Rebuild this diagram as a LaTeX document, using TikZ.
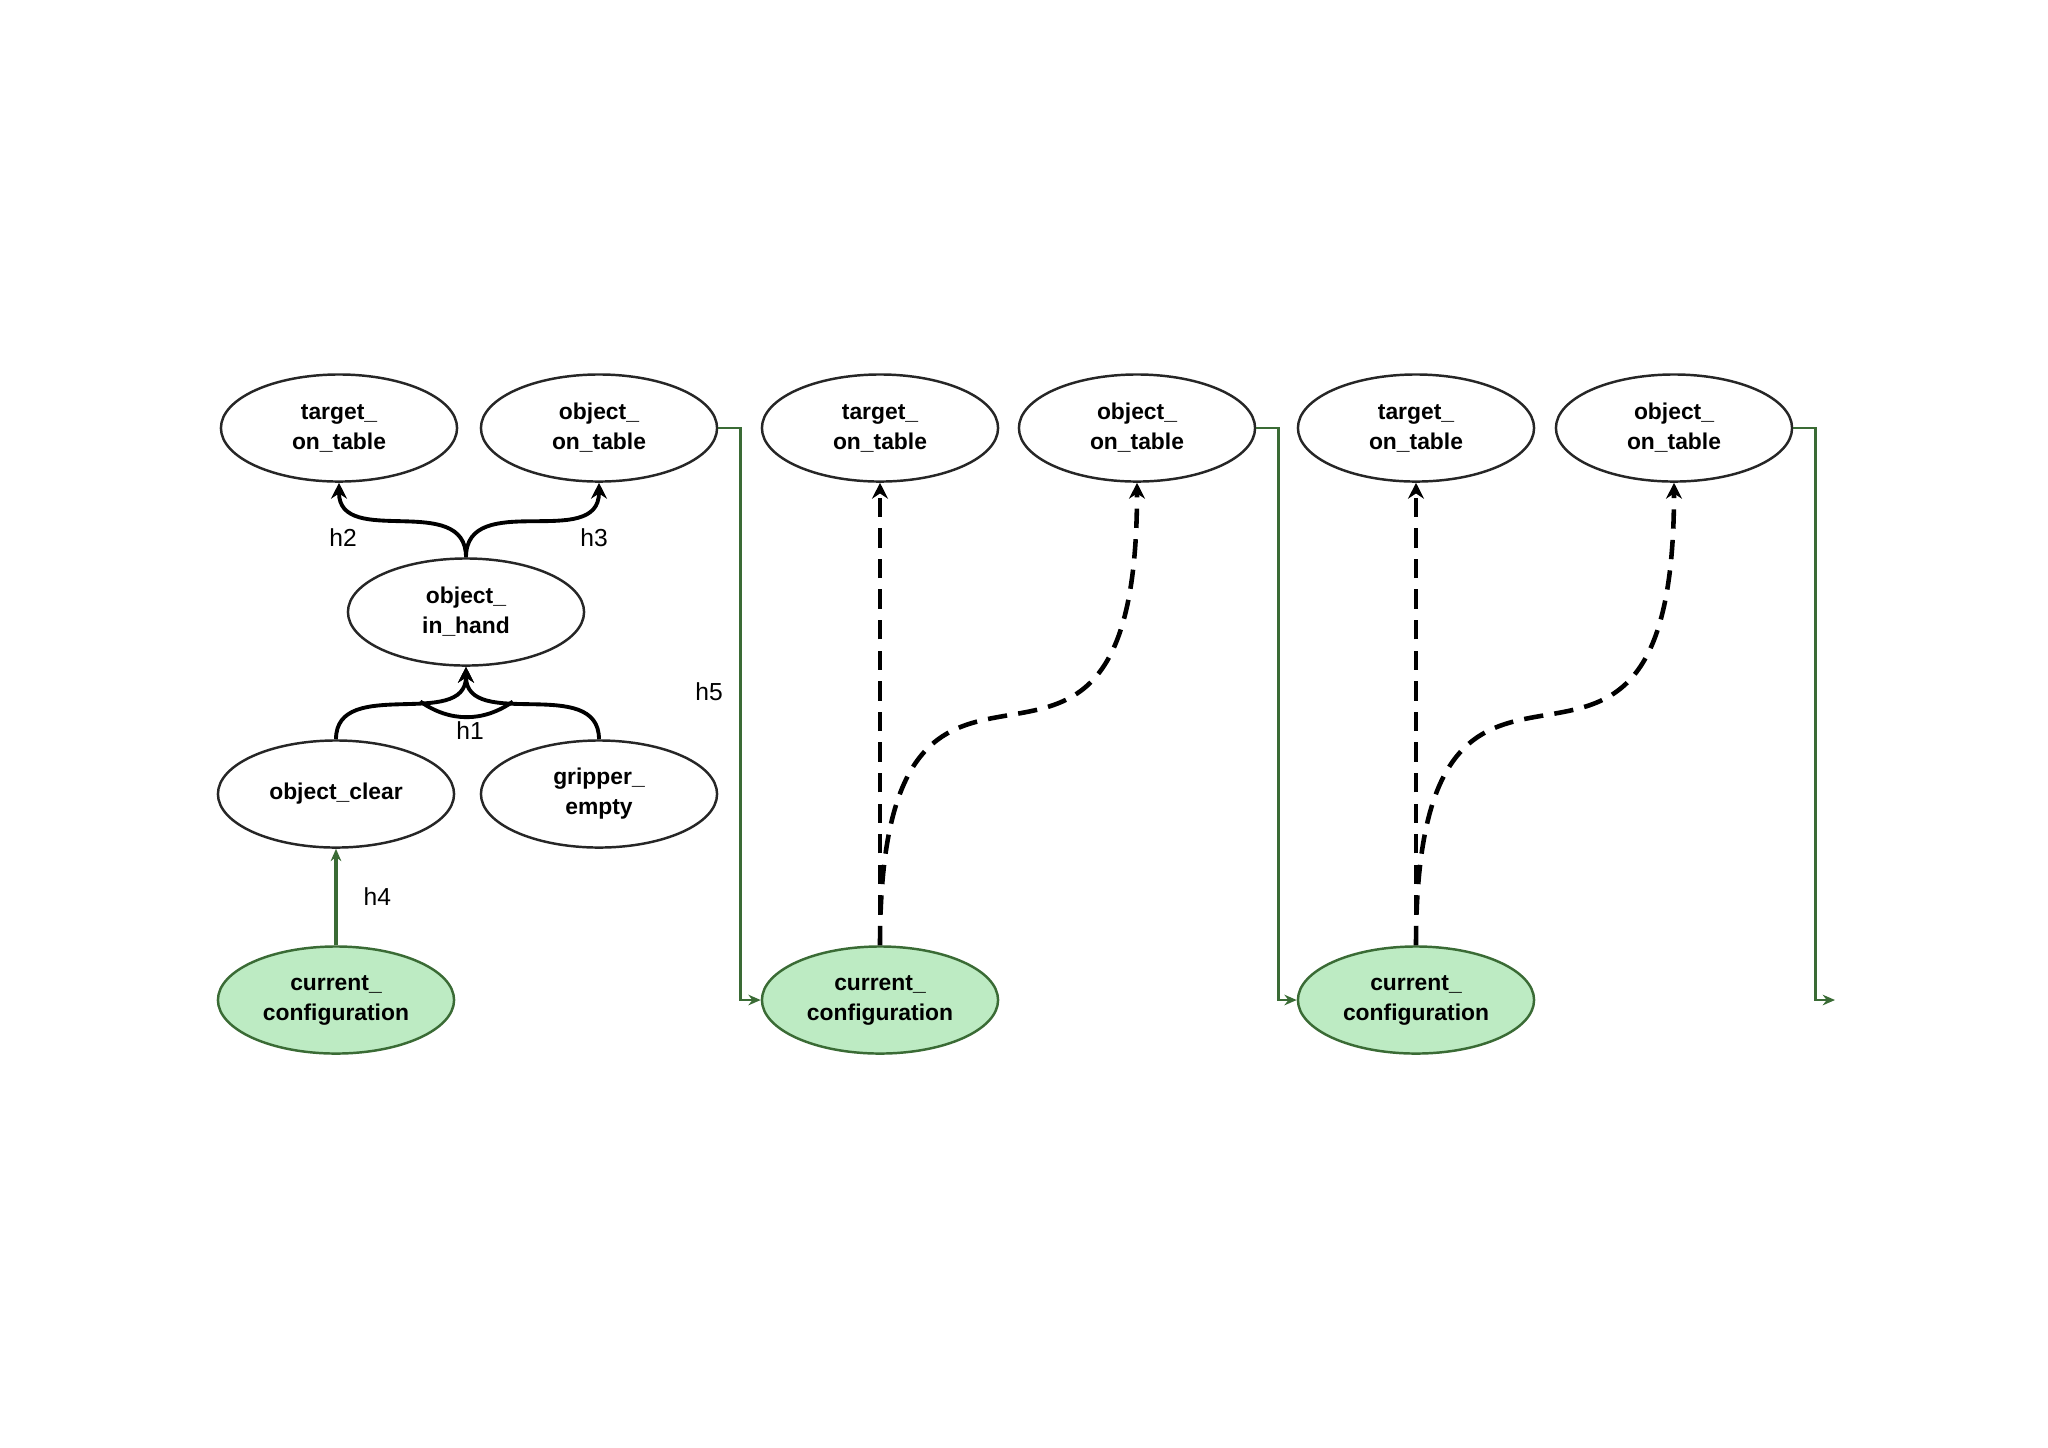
\documentclass[tikz,border=0pt]{standalone}
\usepackage{fontspec}
\setmainfont{Liberation Sans}
\usetikzlibrary{arrows.meta,shapes.geometric}
\definecolor{cfgfill}{HTML}{BDEBC3}
\definecolor{cfgline}{HTML}{3A6B35}
\tikzset{
  fact/.style={ellipse,draw=black!85,line width=0.7pt,minimum width=2.36cm,minimum height=1.07cm,
    inner sep=0pt,align=center,font=\fontsize{6.5}{8.5}\selectfont\bfseries},
  config/.style={fact,fill=cfgfill,draw=cfgline},
  hlink/.style={line width=1.1pt,-{Stealth[length=4.5pt,width=4.5pt]}},
  plan/.style={hlink,line width=1.3pt,dash pattern=on 5.5pt off 3.2pt},
  carry/.style={cfgline,line width=0.8pt,-{Stealth[length=3.5pt,width=3pt]}},
  hlabel/.style={text=black,font=\fontsize{7}{8}\selectfont}
}
\begin{document}
\begin{tikzpicture}[x=0.01cm,y=-0.01cm]
\useasboundingbox (0,0) rectangle (2048,1447);
\node[fact] (tgt1) at (339,428) {target\_\\on\_table};
\node[fact] (obj1) at (599,428) {object\_\\on\_table};
\node[fact] (hand) at (466,612) {object\_\\in\_hand};
\node[fact] (clear) at (336,794) {object\_clear};
\node[fact] (grip) at (599,794) {gripper\_\\empty};
\node[config] (cur1) at (336,1000) {current\_\\configuration};
\node[fact] (tgt2) at (880,428) {target\_\\on\_table};
\node[fact] (obj2) at (1137,428) {object\_\\on\_table};
\node[config] (cur2) at (880,1000) {current\_\\configuration};
\node[fact] (tgt3) at (1416,428) {target\_\\on\_table};
\node[fact] (obj3) at (1674,428) {object\_\\on\_table};
\node[config] (cur3) at (1416,1000) {current\_\\configuration};
\coordinate (next) at (1835,1000);
\draw[hlink] (hand.north) to[out=90,in=-90,looseness=1.15] (tgt1.south);
\draw[hlink] (hand.north) to[out=90,in=-90,looseness=1.15] (obj1.south);
\draw[hlink] (clear.north) to[out=90,in=-90,looseness=1.1] coordinate[pos=0.6] (andL) (hand.south);
\draw[hlink] (grip.north) to[out=90,in=-90,looseness=1.1] coordinate[pos=0.6] (andR) (hand.south);
\draw[line width=1.1pt] (andL) to[bend right=35] (andR);
\draw[carry,line width=1.1pt] (cur1.north) -- node[hlabel,right=4pt] (h4) {h4} (clear.south);
\draw[carry] (obj1.east) -- ++(22,0) |- (cur2.west);
\draw[carry] (obj2.east) -- ++(22,0) |- (cur3.west);
\draw[carry] (obj3.east) -- ++(22,0) |- (next);
\draw[plan] (cur2.north) -- (tgt2.south);
\draw[plan] (cur2.north) to[out=90,in=-90,looseness=2] (obj2.south);
\draw[plan] (cur3.north) -- (tgt3.south);
\draw[plan] (cur3.north) to[out=90,in=-90,looseness=2] (obj3.south);
\node[hlabel] (h1) at (470,731) {h1};
\node[hlabel] (h2) at (343,538) {h2};
\node[hlabel] (h3) at (594,538) {h3};
\node[hlabel] (h5) at (709,692) {h5};
\end{tikzpicture}
\end{document}
